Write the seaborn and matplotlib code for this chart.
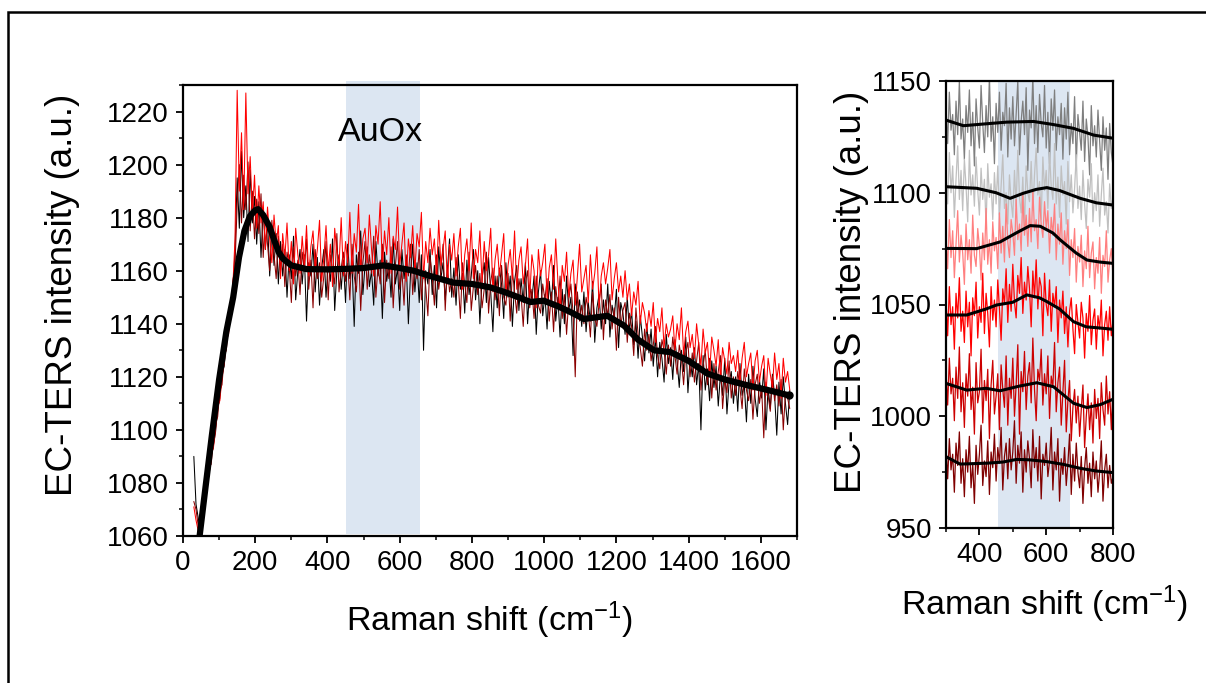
import numpy as np
import matplotlib
matplotlib.use("Agg")
import matplotlib.pyplot as plt
from matplotlib.patches import Rectangle
from matplotlib.ticker import MultipleLocator
import seaborn as sns

# ---------------- data: left panel ----------------
left_shift = np.arange(30, 1681, 6)  # Raman shift grid of the raw spectra (cm-1)

left_black = [
    1090, 1072, 1067, 1062, 1069, 1073, 1080, 1083, 1090, 1094,
    1099, 1108, 1112, 1121, 1124, 1133, 1137, 1146, 1150, 1168,
    1195, 1176, 1205, 1180, 1192, 1171, 1198, 1178, 1188, 1170,
    1186, 1165, 1183, 1168, 1179, 1158, 1176, 1162, 1174, 1155,
    1171, 1158, 1168, 1150, 1166, 1157, 1173, 1149, 1160, 1168,
    1155, 1166, 1141, 1163, 1158, 1170, 1152, 1165, 1147, 1161,
    1168, 1150, 1163, 1156, 1172, 1145, 1160, 1166, 1153, 1164,
    1148, 1170, 1157, 1163, 1139, 1166, 1159, 1175, 1151, 1162,
    1169, 1154, 1160, 1147, 1171, 1158, 1164, 1142, 1167, 1156,
    1163, 1150, 1172, 1155, 1161, 1145, 1168, 1157, 1164, 1140,
    1159, 1170, 1152, 1163, 1148, 1166, 1130, 1160, 1155, 1168,
    1151, 1162, 1146, 1169, 1157, 1163, 1149, 1160, 1172, 1150,
    1161, 1147, 1166, 1153, 1159, 1144, 1164, 1151, 1158, 1168,
    1149, 1160, 1140, 1157, 1163, 1148, 1165, 1152, 1137, 1158,
    1146, 1161, 1155, 1142, 1163, 1150, 1158, 1139, 1156, 1162,
    1145, 1157, 1148, 1163, 1140, 1154, 1149, 1158, 1136, 1152,
    1160, 1143, 1151, 1138, 1156, 1147, 1162, 1141, 1150, 1135,
    1153, 1140, 1158, 1145, 1150, 1128, 1155, 1143, 1149, 1139,
    1152, 1137, 1148, 1141, 1156, 1133, 1146, 1151, 1138, 1149,
    1140, 1155, 1135, 1147, 1142, 1153, 1131, 1148, 1144, 1136,
    1150, 1137, 1145, 1132, 1141, 1127, 1143, 1135, 1126, 1140,
    1129, 1138, 1124, 1135, 1120, 1133, 1127, 1118, 1136, 1125,
    1131, 1119, 1134, 1126, 1116, 1130, 1122, 1135, 1114, 1127,
    1120, 1131, 1117, 1125, 1100, 1128, 1115, 1123, 1111, 1126,
    1116, 1124, 1109, 1121, 1113, 1127, 1106, 1118, 1122, 1110,
    1120, 1107, 1125, 1113, 1117, 1103, 1121, 1110, 1124, 1112,
    1105, 1119, 1112, 1123, 1100, 1116, 1108, 1121, 1113, 1098,
    1118, 1106, 1120, 1110, 1102, 1115,
]

left_darkred = [
    1073, 1070, 1064, 1066, 1070, 1072, 1078, 1086, 1087, 1096,
    1102, 1105, 1115, 1117, 1128, 1130, 1140, 1142, 1156, 1162,
    1185, 1200, 1178, 1196, 1183, 1201, 1175, 1190, 1172, 1187,
    1174, 1189, 1165, 1181, 1170, 1160, 1179, 1166, 1157, 1173,
    1160, 1170, 1154, 1167, 1162, 1148, 1169, 1158, 1164, 1151,
    1167, 1160, 1172, 1153, 1164, 1146, 1168, 1157, 1163, 1150,
    1158, 1171, 1149, 1166, 1160, 1155, 1174, 1152, 1161, 1167,
    1156, 1163, 1149, 1170, 1158, 1152, 1167, 1145, 1163, 1171,
    1153, 1166, 1159, 1173, 1150, 1162, 1155, 1170, 1148, 1164,
    1157, 1169, 1146, 1162, 1171, 1153, 1160, 1147, 1166, 1158,
    1170, 1151, 1163, 1157, 1168, 1149, 1161, 1154, 1143, 1165,
    1158, 1147, 1166, 1153, 1160, 1170, 1145, 1162, 1152, 1157,
    1150, 1165, 1156, 1142, 1163, 1155, 1148, 1167, 1145, 1154,
    1162, 1151, 1159, 1146, 1153, 1167, 1144, 1156, 1161, 1149,
    1158, 1143, 1162, 1150, 1147, 1159, 1141, 1160, 1152, 1144,
    1157, 1151, 1139, 1155, 1160, 1146, 1153, 1142, 1158, 1147,
    1144, 1155, 1149, 1157, 1141, 1152, 1137, 1154, 1146, 1158,
    1142, 1151, 1136, 1149, 1155, 1144, 1120, 1152, 1141, 1147,
    1140, 1150, 1145, 1135, 1152, 1142, 1139, 1148, 1155, 1134,
    1149, 1143, 1151, 1138, 1146, 1130, 1150, 1139, 1145, 1148,
    1133, 1144, 1139, 1128, 1146, 1136, 1131, 1124, 1138, 1130,
    1136, 1126, 1132, 1139, 1128, 1123, 1134, 1130, 1121, 1132,
    1124, 1135, 1128, 1121, 1132, 1127, 1117, 1129, 1133, 1120,
    1129, 1118, 1126, 1133, 1115, 1124, 1130, 1117, 1127, 1112,
    1125, 1115, 1122, 1128, 1108, 1119, 1114, 1126, 1112, 1120,
    1113, 1122, 1116, 1108, 1123, 1115, 1111, 1119, 1104, 1117,
    1121, 1110, 1116, 1097, 1118, 1113, 1107, 1120, 1111, 1117,
    1109, 1119, 1100, 1114, 1112, 1108,
]

left_red = [
    1071, 1066, 1062, 1068, 1066, 1075, 1081, 1083, 1091, 1093,
    1100, 1109, 1111, 1120, 1125, 1134, 1136, 1145, 1154, 1172,
    1228, 1190, 1212, 1183, 1227, 1189, 1203, 1181, 1196, 1176,
    1192, 1178, 1186, 1168, 1184, 1172, 1163, 1181, 1170, 1177,
    1157, 1174, 1165, 1178, 1160, 1171, 1155, 1176, 1166, 1159,
    1173, 1162, 1177, 1158, 1169, 1175, 1161, 1168, 1179, 1156,
    1165, 1177, 1160, 1170, 1154, 1176, 1167, 1162, 1180, 1158,
    1171, 1163, 1182, 1159, 1174, 1167, 1185, 1160, 1172, 1176,
    1163, 1181, 1168, 1158, 1177, 1170, 1186, 1161, 1175, 1166,
    1180, 1159, 1173, 1168, 1184, 1162, 1170, 1178, 1156, 1172,
    1165, 1177, 1160, 1174, 1169, 1182, 1157, 1171, 1163, 1176,
    1166, 1172, 1158, 1179, 1162, 1168, 1175, 1155, 1170, 1164,
    1174, 1158, 1169, 1176, 1153, 1166, 1172, 1160, 1178, 1157,
    1168, 1163, 1175, 1155, 1171, 1160, 1166, 1176, 1152, 1164,
    1170, 1158, 1166, 1174, 1151, 1162, 1168, 1157, 1175, 1153,
    1164, 1169, 1155, 1162, 1172, 1150, 1166, 1160, 1146, 1168,
    1158, 1163, 1170, 1149, 1161, 1166, 1153, 1172, 1156, 1145,
    1162, 1156, 1167, 1150, 1159, 1164, 1147, 1158, 1170, 1152,
    1157, 1162, 1148, 1166, 1153, 1159, 1169, 1146, 1158, 1163,
    1155, 1161, 1168, 1149, 1157, 1163, 1152, 1158, 1150, 1160,
    1149, 1155, 1143, 1152, 1147, 1156, 1140, 1148, 1144, 1137,
    1145, 1139, 1148, 1133, 1142, 1137, 1146, 1131, 1140, 1135,
    1138, 1143, 1130, 1140, 1134, 1146, 1128, 1137, 1141, 1131,
    1136, 1127, 1140, 1132, 1124, 1138, 1129, 1133, 1121, 1135,
    1130, 1124, 1134, 1119, 1131, 1126, 1121, 1133, 1125, 1128,
    1122, 1130, 1117, 1127, 1133, 1120, 1125, 1129, 1115, 1126,
    1130, 1118, 1124, 1128, 1113, 1127, 1121, 1116, 1129, 1119,
    1125, 1112, 1127, 1118, 1122, 1115,
]

# smoothed average (thick black line)
avg_shift = [46, 62, 80, 100, 120, 139, 155, 170, 185, 200, 208, 222, 240, 250,
             265, 277, 300, 342, 400, 453, 500, 555, 600, 638, 684, 749, 800,
             851, 900, 962, 999, 1040, 1073, 1110, 1175, 1221, 1260, 1304,
             1350, 1400, 1452, 1500, 1563, 1620, 1678]
avg_int = [1060, 1078, 1098, 1119, 1137, 1150, 1165, 1175, 1180.5, 1182.8,
           1183.2, 1181, 1176.5, 1172.5, 1167, 1164.5, 1162, 1160.6, 1160.5,
           1160.7, 1161, 1162, 1161, 1160, 1158, 1155.5, 1155, 1153.7, 1151.5,
           1148.2, 1148.7, 1146.5, 1144.4, 1141.8, 1143, 1139.3, 1134, 1130,
           1129.3, 1126, 1121.2, 1119, 1116.8, 1115, 1113]

# ---------------- data: right panel ----------------
right_shift = np.arange(300, 801, 5)

right_raw = {
    "#7f7f7f": [
        1138, 1122, 1145, 1128, 1135, 1117, 1141, 1126, 1150, 1124,
        1133, 1115, 1139, 1127, 1146, 1121, 1136, 1112, 1142, 1129,
        1120, 1148, 1131, 1118, 1139, 1125, 1152, 1123, 1134, 1113,
        1140, 1127, 1145, 1119, 1136, 1130, 1149, 1116, 1138, 1124,
        1143, 1121, 1135, 1150, 1117, 1132, 1141, 1126, 1147, 1110,
        1137, 1129, 1152, 1122, 1139, 1118, 1144, 1131, 1125, 1148,
        1120, 1136, 1113, 1142, 1128, 1146, 1119, 1134, 1126, 1140,
        1115, 1138, 1124, 1145, 1117, 1131, 1122, 1143, 1112, 1135,
        1127, 1119, 1141, 1114, 1133, 1125, 1108, 1139, 1121, 1130,
        1116, 1137, 1123, 1110, 1134, 1119, 1129, 1106, 1131, 1118,
        1112],
    "#c0c0c0": [
        1108, 1095, 1118, 1100, 1112, 1089, 1106, 1121, 1097, 1110,
        1092, 1115, 1103, 1087, 1119, 1099, 1108, 1094, 1116, 1101,
        1090, 1111, 1097, 1106, 1085, 1113, 1098, 1104, 1088, 1109,
        1095, 1112, 1090, 1103, 1117, 1093, 1100, 1086, 1108, 1096,
        1089, 1110, 1094, 1119, 1098, 1091, 1107, 1084, 1112, 1100,
        1096, 1114, 1092, 1108, 1120, 1099, 1105, 1088, 1116, 1101,
        1110, 1093, 1118, 1103, 1097, 1122, 1095, 1107, 1089, 1112,
        1099, 1105, 1086, 1114, 1096, 1108, 1091, 1102, 1117, 1093,
        1103, 1088, 1110, 1095, 1084, 1106, 1098, 1113, 1087, 1100,
        1092, 1108, 1085, 1099, 1111, 1090, 1096, 1082, 1104, 1093,
        1098],
    "#ff7f7f": [
        1080, 1066, 1088, 1071, 1083, 1062, 1077, 1092, 1069, 1081,
        1073, 1059, 1086, 1070, 1079, 1064, 1090, 1072, 1067, 1084,
        1076, 1061, 1082, 1070, 1093, 1068, 1079, 1064, 1087, 1074,
        1080, 1066, 1091, 1073, 1085, 1069, 1095, 1078, 1071, 1088,
        1082, 1072, 1097, 1079, 1086, 1074, 1099, 1081, 1090, 1076,
        1093, 1078, 1101, 1083, 1088, 1075, 1098, 1086, 1080, 1096,
        1084, 1092, 1073, 1089, 1081, 1095, 1070, 1086, 1077, 1091,
        1068, 1083, 1075, 1088, 1063, 1079, 1071, 1084, 1060, 1076,
        1069, 1081, 1058, 1074, 1066, 1085, 1062, 1073, 1078, 1057,
        1071, 1064, 1080, 1055, 1072, 1067, 1083, 1060, 1070, 1075,
        1062],
    "#ff0000": [
        1052, 1036, 1058, 1041, 1049, 1030, 1055, 1044, 1062, 1038,
        1047, 1033, 1056, 1040, 1051, 1027, 1053, 1045, 1060, 1035,
        1049, 1042, 1064, 1037, 1055, 1046, 1031, 1058, 1043, 1052,
        1040, 1061, 1048, 1034, 1057, 1050, 1066, 1042, 1059, 1047,
        1068, 1051, 1044, 1063, 1055, 1071, 1046, 1060, 1052, 1067,
        1057, 1040, 1065, 1053, 1070, 1048, 1062, 1058, 1036, 1064,
        1050, 1045, 1061, 1038, 1055, 1049, 1058, 1033, 1052, 1044,
        1056, 1037, 1049, 1031, 1047, 1053, 1039, 1028, 1050, 1042,
        1035, 1051, 1044, 1026, 1046, 1038, 1054, 1032, 1043, 1048,
        1030, 1045, 1039, 1052, 1027, 1041, 1047, 1034, 1049, 1036,
        1043],
    "#cc0000": [
        1020, 1005, 1026, 1010, 1017, 998, 1022, 1008, 1031, 1002,
        1015, 995, 1019, 1009, 1028, 1003, 1013, 992, 1024, 1006,
        1011, 1030, 997, 1016, 1007, 1021, 990, 1014, 1025, 1001,
        1009, 1019, 994, 1023, 1012, 1004, 1027, 996, 1017, 1008,
        1026, 1000, 1014, 1032, 992, 1020, 1011, 1029, 1003, 1018,
        1024, 1006, 1035, 1012, 998, 1021, 1016, 1030, 1005, 1019,
        1010, 1027, 999, 1018, 1013, 1033, 1002, 1015, 1022, 996,
        1011, 1025, 993, 1007, 1016, 989, 1004, 1012, 997, 1009,
        991, 1003, 1014, 986, 1000, 1010, 994, 1006, 988, 1012,
        999, 1008, 990, 1015, 1003, 996, 1018, 1001, 1011, 994,
        1013],
    "#800000": [
        986, 972, 990, 976, 983, 966, 988, 978, 993, 970,
        981, 964, 985, 975, 991, 968, 979, 961, 987, 974,
        983, 996, 969, 980, 973, 989, 965, 984, 977, 992,
        971, 986, 979, 995, 967, 982, 988, 972, 990, 976,
        984, 998, 970, 987, 979, 993, 966, 985, 975, 989,
        981, 968, 994, 977, 986, 971, 991, 963, 983, 978,
        988, 973, 980, 995, 967, 984, 976, 990, 962, 981,
        974, 986, 969, 979, 992, 965, 983, 971, 988, 975,
        968, 982, 961, 977, 986, 970, 979, 964, 984, 972,
        980, 966, 975, 989, 962, 976, 983, 968, 978, 970,
        973],
}

right_smooth = [
    ([300, 352, 400, 482, 562, 622, 682, 742, 800],
     [1132.5, 1130, 1130.6, 1131.6, 1131.9, 1130.5, 1128.8, 1125.8, 1124.4]),
    ([300, 392, 450, 492, 532, 570, 602, 640, 702, 750, 800],
     [1102.7, 1102, 1100, 1097.5, 1099.8, 1101.5, 1102.3, 1101, 1097.5, 1095.5, 1094.5]),
    ([300, 392, 462, 510, 552, 582, 620, 642, 690, 722, 760, 800],
     [1075.1, 1075, 1078, 1082, 1085.3, 1085, 1082, 1078.9, 1073, 1069.9, 1069, 1068.4]),
    ([300, 362, 420, 452, 500, 542, 580, 602, 640, 682, 720, 760, 800],
     [1045.3, 1045.3, 1048, 1049.8, 1051, 1054.3, 1053, 1051.3, 1048, 1042.3, 1040, 1039.5, 1038.9]),
    ([300, 362, 420, 462, 520, 572, 622, 682, 722, 762, 800],
     [1014.7, 1011.7, 1012.5, 1011.4, 1013.5, 1015, 1013.2, 1005.8, 1003.9, 1005.2, 1007.6]),
    ([300, 342, 422, 470, 512, 550, 602, 650, 702, 750, 800],
     [981.9, 978.6, 979, 979.5, 980.7, 980.5, 979.7, 978.5, 976.7, 975.5, 974.8]),
]

auox_left = (450, 655)
auox_right = (457, 670)

# ---------------- styling ----------------
sns.set_theme(style="ticks")
plt.rcParams["font.family"] = ["Liberation Sans", "DejaVu Sans"]
plt.rcParams["mathtext.fontset"] = "custom"
plt.rcParams["mathtext.rm"] = "Liberation Sans"
plt.rcParams["mathtext.default"] = "regular"
plt.rcParams["text.color"] = "black"
plt.rcParams["axes.labelcolor"] = "black"

TICK_FS = 20
XLABEL_FS = 24.5
YLABEL_FS = 26.5
shade = "#dce6f2"

fig = plt.figure(figsize=(12.06, 6.83), dpi=100)
fig.patch.set_facecolor("white")
axL = fig.add_axes([183 / 1206, (683 - 536) / 683, (797 - 183) / 1206, (536 - 85) / 683])
axR = fig.add_axes([946 / 1206, (683 - 528) / 683, (1113 - 946) / 1206, (528 - 81) / 683])

for ax in (axL, axR):
    ax.set_facecolor("white")
    for s in ax.spines.values():
        s.set_linewidth(1.6)
        s.set_color("black")
        s.set_visible(True)
    ax.tick_params(which="major", direction="out", length=5, width=1.3,
                   labelsize=TICK_FS, colors="black", pad=5)
    ax.tick_params(which="minor", direction="out", length=3, width=1.1, colors="black")
    ax.grid(False)

# left panel
axL.axvspan(*auox_left, ymin=0.005, ymax=1.008, color=shade, lw=0, zorder=0, clip_on=False)
for ys, col in ((left_black, "#000000"), (left_darkred, "#8b0000"), (left_red, "#ff0000")):
    sns.lineplot(x=left_shift, y=ys, ax=axL, color=col, linewidth=0.75,
                 estimator=None, sort=False, legend=False, zorder=2)
sns.lineplot(x=avg_shift, y=avg_int, ax=axL, color="black", linewidth=4.5,
             estimator=None, sort=False, legend=False, zorder=3)
axL.plot(avg_shift[-1], avg_int[-1], "o", color="black", ms=5, zorder=3)
axL.set_xlim(0, 1700)
axL.set_ylim(1060, 1230)
axL.xaxis.set_major_locator(MultipleLocator(200))
axL.xaxis.set_minor_locator(MultipleLocator(100))
axL.yaxis.set_major_locator(MultipleLocator(20))
axL.yaxis.set_minor_locator(MultipleLocator(10))
axL.text(546, 1212, "AuOx", fontsize=24.5, ha="center", va="center", color="black")
axL.set_xlabel("Raman shift (cm$^{-1}$)", fontsize=XLABEL_FS, labelpad=17)
axL.set_ylabel("EC-TERS intensity (a.u.)", fontsize=YLABEL_FS)
axL.yaxis.set_label_coords(-0.168, 0.534)

# right panel
axR.axvspan(*auox_right, color=shade, lw=0, zorder=0)
for col, ys in right_raw.items():
    sns.lineplot(x=right_shift, y=ys, ax=axR, color=col, linewidth=0.9,
                 estimator=None, sort=False, legend=False, zorder=2)
for xs, ys in right_smooth:
    sns.lineplot(x=xs, y=ys, ax=axR, color="black", linewidth=2.2,
                 estimator=None, sort=False, legend=False, zorder=3)
axR.set_xlim(300, 800)
axR.set_ylim(950, 1150)
axR.xaxis.set_major_locator(MultipleLocator(200))
axR.xaxis.set_minor_locator(MultipleLocator(100))
axR.yaxis.set_major_locator(MultipleLocator(50))
axR.yaxis.set_minor_locator(MultipleLocator(25))
axR.set_xlabel("Raman shift (cm$^{-1}$)", fontsize=XLABEL_FS)
axR.xaxis.set_label_coords(0.593, -0.125)
axR.set_ylabel("EC-TERS intensity (a.u.)", fontsize=YLABEL_FS)
axR.yaxis.set_label_coords(-0.46, 0.528)

# figure frame (open to the right/bottom as in the reference crop)
fig.add_artist(Rectangle((8 / 1206, -0.2), 1.5, 0.2 + (683 - 12) / 683,
                         transform=fig.transFigure, fill=False,
                         edgecolor="black", lw=1.8, clip_on=False))

fig.savefig("out.png", dpi=100, facecolor="white")
